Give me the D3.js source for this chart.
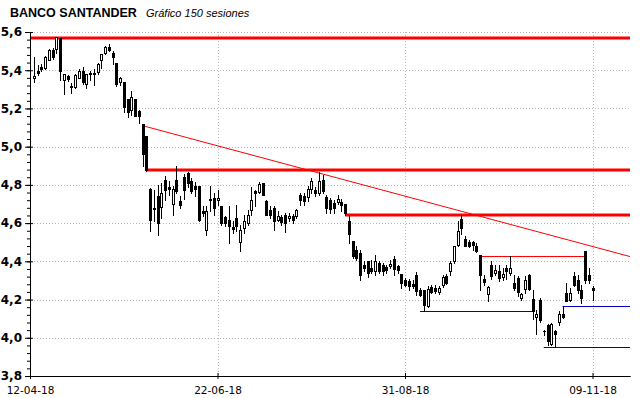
<!DOCTYPE html>
<html>
<head>
<meta charset="utf-8">
<script src="https://cdn.jsdelivr.net/npm/d3@7"></script>
<style>
	body { margin: 0; background: #fff; }
	svg { display: block; }
</style>
</head>
<body>
<div id="chart"></div>
<script>
// ---- data: 150 sesiones, 13-04-18 .. 09-11-18 (session index 1..150) ----
var opens = [
	5.360, 5.395, 5.419, 5.412, 5.454, 5.508, 5.512, 5.566, 5.351, 5.369,
	5.320, 5.311, 5.360, 5.395, 5.329, 5.386, 5.386, 5.390, 5.454, 5.491,
	5.521, 5.491, 5.440, 5.339, 5.339, 5.247, 5.192, 5.250, 5.186, 5.116,
	5.055, 4.779, 4.680, 4.741, 4.685, 4.828, 4.790, 4.700, 4.828, 4.714,
	4.840, 4.860, 4.819, 4.793, 4.793, 4.665, 4.566, 4.727, 4.732, 4.723,
	4.688, 4.632, 4.618, 4.580, 4.627, 4.500, 4.575, 4.601, 4.667, 4.767,
	4.763, 4.810, 4.714, 4.671, 4.680, 4.618, 4.632, 4.645, 4.627, 4.636,
	4.636, 4.749, 4.744, 4.737, 4.779, 4.775, 4.758, 4.828, 4.735, 4.723,
	4.706, 4.711, 4.711, 4.700, 4.613, 4.505, 4.461, 4.444, 4.383, 4.400,
	4.365, 4.351, 4.391, 4.379, 4.369, 4.374, 4.412, 4.374, 4.334, 4.304,
	4.295, 4.280, 4.330, 4.252, 4.252, 4.164, 4.266, 4.262, 4.240, 4.275,
	4.325, 4.348, 4.400, 4.487, 4.620, 4.517, 4.500, 4.500, 4.479, 4.435,
	4.308, 4.231, 4.380, 4.339, 4.348, 4.318, 4.365, 4.339, 4.287, 4.313,
	4.208, 4.257, 4.327, 4.205, 4.107, 4.200, 4.037, 4.065, 3.967, 4.037,
	4.082, 4.124, 4.234, 4.199, 4.322, 4.304, 4.252, 4.456, 4.330, 4.260
];
var highs = [
	5.470, 5.426, 5.430, 5.477, 5.512, 5.515, 5.575, 5.570, 5.378, 5.374,
	5.334, 5.378, 5.404, 5.416, 5.381, 5.395, 5.404, 5.439, 5.486, 5.526,
	5.535, 5.503, 5.440, 5.364, 5.339, 5.247, 5.289, 5.250, 5.191, 5.116,
	5.055, 4.784, 4.775, 4.802, 4.810, 4.849, 4.820, 4.793, 4.898, 4.741,
	4.856, 4.865, 4.837, 4.814, 4.793, 4.688, 4.688, 4.793, 4.758, 4.775,
	4.688, 4.636, 4.688, 4.610, 4.697, 4.592, 4.645, 4.671, 4.789, 4.775,
	4.814, 4.810, 4.723, 4.688, 4.688, 4.662, 4.645, 4.654, 4.654, 4.650,
	4.674, 4.758, 4.758, 4.793, 4.836, 4.789, 4.866, 4.850, 4.749, 4.732,
	4.723, 4.749, 4.728, 4.700, 4.645, 4.505, 4.479, 4.461, 4.400, 4.400,
	4.409, 4.435, 4.400, 4.391, 4.383, 4.409, 4.426, 4.383, 4.334, 4.313,
	4.309, 4.300, 4.344, 4.260, 4.252, 4.269, 4.278, 4.278, 4.270, 4.330,
	4.335, 4.400, 4.479, 4.610, 4.640, 4.531, 4.510, 4.505, 4.496, 4.435,
	4.330, 4.269, 4.400, 4.383, 4.383, 4.365, 4.383, 4.426, 4.330, 4.322,
	4.234, 4.325, 4.335, 4.250, 4.147, 4.208, 4.042, 4.072, 4.077, 4.042,
	4.138, 4.165, 4.287, 4.262, 4.344, 4.330, 4.278, 4.456, 4.365, 4.270
];
var lows = [
	5.339, 5.374, 5.395, 5.404, 5.451, 5.460, 5.491, 5.351, 5.276, 5.343,
	5.282, 5.308, 5.357, 5.329, 5.308, 5.351, 5.322, 5.381, 5.412, 5.486,
	5.500, 5.433, 5.316, 5.325, 5.182, 5.154, 5.168, 5.159, 5.124, 4.898,
	4.871, 4.557, 4.610, 4.540, 4.627, 4.723, 4.745, 4.645, 4.760, 4.680,
	4.728, 4.790, 4.758, 4.744, 4.610, 4.636, 4.540, 4.662, 4.645, 4.697,
	4.592, 4.584, 4.496, 4.549, 4.557, 4.455, 4.549, 4.592, 4.645, 4.688,
	4.758, 4.749, 4.645, 4.627, 4.566, 4.610, 4.592, 4.552, 4.610, 4.600,
	4.627, 4.697, 4.697, 4.714, 4.758, 4.741, 4.749, 4.760, 4.653, 4.654,
	4.653, 4.700, 4.662, 4.645, 4.496, 4.418, 4.409, 4.304, 4.348, 4.317,
	4.340, 4.330, 4.340, 4.330, 4.340, 4.366, 4.330, 4.340, 4.261, 4.270,
	4.252, 4.260, 4.226, 4.217, 4.142, 4.161, 4.235, 4.234, 4.230, 4.265,
	4.280, 4.330, 4.391, 4.479, 4.545, 4.479, 4.475, 4.461, 4.447, 4.252,
	4.278, 4.191, 4.305, 4.330, 4.295, 4.304, 4.310, 4.330, 4.252, 4.217,
	4.199, 4.234, 4.252, 4.100, 4.020, 4.083, 4.016, 3.964, 3.964, 3.952,
	4.065, 4.105, 4.191, 4.190, 4.269, 4.234, 4.182, 4.287, 4.287, 4.200
];
var closes = [
	5.372, 5.386, 5.405, 5.470, 5.508, 5.468, 5.575, 5.395, 5.378, 5.355,
	5.313, 5.376, 5.397, 5.339, 5.378, 5.378, 5.381, 5.433, 5.486, 5.521,
	5.507, 5.468, 5.329, 5.357, 5.207, 5.180, 5.262, 5.163, 5.159, 4.960,
	4.880, 4.618, 4.674, 4.601, 4.755, 4.775, 4.780, 4.779, 4.767, 4.697,
	4.775, 4.810, 4.767, 4.779, 4.618, 4.654, 4.662, 4.723, 4.680, 4.732,
	4.601, 4.601, 4.584, 4.570, 4.584, 4.566, 4.613, 4.645, 4.723, 4.758,
	4.805, 4.749, 4.645, 4.645, 4.610, 4.636, 4.604, 4.601, 4.639, 4.618,
	4.667, 4.723, 4.714, 4.779, 4.819, 4.758, 4.821, 4.767, 4.679, 4.676,
	4.679, 4.728, 4.693, 4.653, 4.543, 4.426, 4.418, 4.330, 4.365, 4.339,
	4.348, 4.400, 4.351, 4.351, 4.357, 4.386, 4.362, 4.357, 4.287, 4.278,
	4.269, 4.272, 4.243, 4.226, 4.173, 4.255, 4.238, 4.245, 4.262, 4.316,
	4.287, 4.391, 4.479, 4.557, 4.575, 4.479, 4.479, 4.487, 4.453, 4.330,
	4.290, 4.266, 4.325, 4.353, 4.313, 4.336, 4.348, 4.365, 4.261, 4.238,
	4.229, 4.304, 4.257, 4.140, 4.126, 4.095, 4.034, 3.985, 4.072, 4.020,
	4.124, 4.110, 4.191, 4.234, 4.278, 4.252, 4.208, 4.304, 4.304, 4.252
];

var priceTicks = [3.8, 4.0, 4.2, 4.4, 4.6, 4.8, 5.0, 5.2, 5.4, 5.6];
var dateTickIdx = [0, 50, 100, 150];
var dateLabels = ['12-04-18', '22-06-18', '31-08-18', '09-11-18'];

// horizontal levels: [price, from session, to session]
var redLevels = [[5.57, 0, 160], [4.88, 31, 160], [4.645, 84, 160]];
var redThinLevels = [[4.428, 120, 148]];
var blueLevels = [[4.14, 104, 134], [4.168, 142, 160], [3.952, 137, 160]];
// trend line (session, price)
var trendLine = [[30, 5.11], [160, 4.425]];

// ---- chart ----
var W = 640, H = 398;
var x = d3.scaleLinear().domain([0, 160]).range([30, 630]);
var y = d3.scaleLinear().domain([3.8, 5.6]).range([376, 32]);
var fmt = function(d) { return d3.format('.1f')(d).replace('.', ','); };

var svg = d3.select('#chart').append('svg').attr('width', W).attr('height', H);

// titles
svg.append('text')
	.attr('x', 10).attr('y', 17)
	.attr('font-family', '"Liberation Sans", Arial, sans-serif')
	.attr('font-size', 12.5).attr('font-weight', 'bold')
	.attr('fill', '#000')
	.text('BANCO SANTANDER');
svg.append('text')
	.attr('x', 146).attr('y', 17)
	.attr('font-family', '"Liberation Sans", Arial, sans-serif')
	.attr('font-size', 11).attr('font-style', 'italic')
	.attr('fill', '#000')
	.text('Gráfico 150 sesiones');

// grid
var grid = svg.append('g').attr('stroke', '#b8b8b8').attr('stroke-dasharray', '1,2');
priceTicks.slice(1).forEach(function(p) {
	var yy = Math.round(y(p)) + 0.5;
	grid.append('line').attr('x1', 31).attr('x2', 630).attr('y1', yy).attr('y2', yy);
});
dateTickIdx.slice(1).forEach(function(i) {
	var xx = Math.round(x(i)) + 0.5;
	grid.append('line').attr('x1', xx).attr('x2', xx).attr('y1', y(5.6)).attr('y2', 376);
});

// levels
var lv = svg.append('g').attr('fill', 'none');
lv.append('line')
	.attr('x1', x(trendLine[0][0])).attr('y1', y(trendLine[0][1]))
	.attr('x2', x(trendLine[1][0])).attr('y2', y(trendLine[1][1]))
	.attr('stroke', '#ff0000').attr('stroke-width', 1);
redLevels.forEach(function(d) {
	var yy = Math.round(y(d[0]));
	lv.append('line').attr('x1', x(d[1])).attr('x2', x(d[2])).attr('y1', yy).attr('y2', yy)
		.attr('stroke', '#ff0000').attr('stroke-width', 3);
});
redThinLevels.forEach(function(d) {
	var yy = Math.round(y(d[0])) + 0.5;
	lv.append('line').attr('x1', x(d[1])).attr('x2', x(d[2])).attr('y1', yy).attr('y2', yy)
		.attr('stroke', '#ff0000').attr('stroke-width', 1);
});
blueLevels.forEach(function(d) {
	var yy = Math.round(y(d[0])) + 0.5;
	lv.append('line').attr('x1', x(d[1])).attr('x2', x(d[2])).attr('y1', yy).attr('y2', yy)
		.attr('stroke', '#0000c8').attr('stroke-width', 1);
});

// candles
var candles = opens.map(function(o, k) {
	return { i: k + 1, o: o, h: highs[k], l: lows[k], c: closes[k] };
});
var cg = svg.append('g').selectAll('g').data(candles).enter().append('g');
cg.append('line')
	.attr('x1', function(d) { return Math.round(x(d.i)) + 0.5; })
	.attr('x2', function(d) { return Math.round(x(d.i)) + 0.5; })
	.attr('y1', function(d) { return Math.round(y(d.h)); })
	.attr('y2', function(d) { return Math.round(y(d.l)) + 1; })
	.attr('stroke', '#000').attr('stroke-width', 1);
cg.append('rect')
	.attr('x', function(d) { return d.c >= d.o ? Math.round(x(d.i)) - 0.5 : Math.round(x(d.i)) - 1; })
	.attr('width', function(d) { return d.c >= d.o ? 2 : 3; })
	.attr('y', function(d) {
		var t = Math.round(y(Math.max(d.o, d.c)));
		return d.c >= d.o ? t + 0.5 : t;
	})
	.attr('height', function(d) {
		var t = Math.round(y(Math.max(d.o, d.c))), b = Math.round(y(Math.min(d.o, d.c)));
		return d.c >= d.o ? Math.max(0, b - t - 1) + 1 : Math.max(1, b - t + 1);
	})
	.attr('fill', function(d) { return d.c >= d.o ? '#fff' : '#000'; })
	.attr('stroke', function(d) { return d.c >= d.o ? '#000' : 'none'; })
	.attr('stroke-width', 1);

// axes
var axisFont = 'DejaVu Sans, Verdana, sans-serif';
var minorTicks = d3.range(0, 46).map(function(k) { return 3.8 + k * 0.04; });
svg.append('g').attr('transform', 'translate(30,0)')
	.call(d3.axisLeft(y).tickValues(minorTicks).tickSize(3).tickSizeOuter(0).tickFormat(''));
svg.append('g').attr('transform', 'translate(30,0)')
	.call(d3.axisRight(y).tickValues(priceTicks).tickSize(3).tickSizeOuter(0).tickFormat(''));
var yAxis = svg.append('g').attr('transform', 'translate(30,0)')
	.call(d3.axisLeft(y).tickValues(priceTicks).tickSize(5).tickSizeOuter(0).tickPadding(3).tickFormat(fmt));
yAxis.selectAll('text')
	.attr('font-family', axisFont).attr('font-size', 12).attr('font-weight', 'bold').attr('fill', '#000');

svg.append('g').attr('transform', 'translate(0,376)')
	.call(d3.axisTop(x).tickValues(dateTickIdx).tickSize(3).tickSizeOuter(0).tickFormat(''));
var xAxis = svg.append('g').attr('transform', 'translate(0,376)')
	.call(d3.axisBottom(x).tickValues(dateTickIdx).tickSize(3).tickSizeOuter(0).tickPadding(8)
		.tickFormat(function(d, i) { return dateLabels[i]; }));
xAxis.selectAll('text')
	.attr('font-family', axisFont).attr('font-size', 10.5).attr('fill', '#000');
svg.selectAll('.domain').attr('stroke', '#000');
</script>
</body>
</html>
